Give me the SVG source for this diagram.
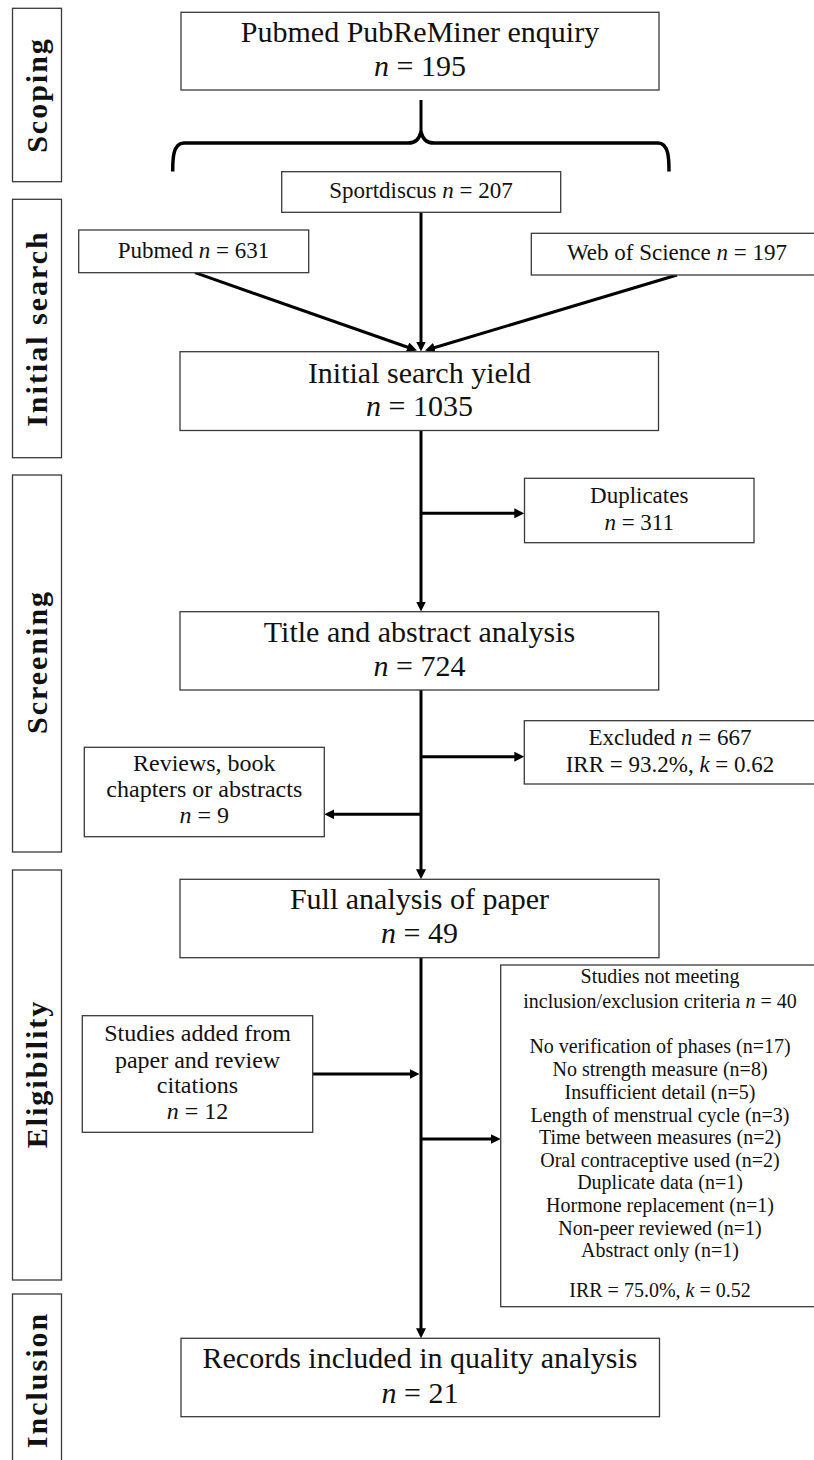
<svg xmlns="http://www.w3.org/2000/svg" width="814" height="1460" viewBox="0 0 814 1460">
<style>
  .box { fill: #ffffff; stroke: #3a3a3a; stroke-width: 1.3; }
  .lbl { font-family: "Liberation Serif", "Times New Roman", serif; font-weight: bold; font-size: 30px; letter-spacing: 2px; fill: #111; text-anchor: middle; }
  .big { font-family: "Liberation Serif", "Times New Roman", serif; font-size: 30px; fill: #111; text-anchor: middle; }
  .mid { font-family: "Liberation Serif", "Times New Roman", serif; font-size: 23px; fill: #111; text-anchor: middle; }
  .md2 { font-family: "Liberation Serif", "Times New Roman", serif; font-size: 24px; fill: #111; text-anchor: middle; }
  .sml { font-family: "Liberation Serif", "Times New Roman", serif; font-size: 20px; fill: #111; text-anchor: middle; }
  .it { font-style: italic; }
  .con { fill: none; stroke: #000; stroke-width: 3; }
  .brace { fill: none; stroke: #000; stroke-width: 3.5; stroke-linejoin: round; }
</style>
<defs>
  <marker id="ah" viewBox="0 0 10 10" refX="4" refY="5" markerWidth="10" markerHeight="10" markerUnits="userSpaceOnUse" orient="auto">
    <path d="M0,0 L10,5 L0,10 z" fill="#000"/>
  </marker>
</defs>

<!-- Stage labels -->
<g id="stage-scoping">
  <rect class="box" x="12.5" y="8.3" width="49" height="173.4"/>
  <text class="lbl" transform="translate(47,95) rotate(-90)">Scoping</text>
</g>
<g id="stage-initial-search">
  <rect class="box" x="12.5" y="199.3" width="49" height="258.4"/>
  <text class="lbl" transform="translate(47,328.5) rotate(-90)">Initial search</text>
</g>
<g id="stage-screening">
  <rect class="box" x="12.5" y="475" width="49" height="377"/>
  <text class="lbl" transform="translate(47,662) rotate(-90)">Screening</text>
</g>
<g id="stage-eligibility">
  <rect class="box" x="12.5" y="870" width="49" height="410"/>
  <text class="lbl" transform="translate(47,1074) rotate(-90)">Eligibility</text>
</g>
<g id="stage-inclusion">
  <rect class="box" x="12.5" y="1294" width="49" height="180"/>
  <text class="lbl" transform="translate(47,1380) rotate(-90)">Inclusion</text>
</g>

<!-- Connectors -->
<g id="connectors">
  <line class="con" x1="421" y1="100" x2="421" y2="134"/>
  <path class="brace" d="M172.7,171.5 C172.7,160 172.7,143 184,143 L408,143 C416,143 419,139 421,132 C423,139 426,143 434,143 L658,143 C669,143 669,160 669,171.5"/>
  <line class="con" x1="195" y1="272.7" x2="411.3" y2="348.5" marker-end="url(#ah)"/>
  <line class="con" x1="421" y1="212.3" x2="421" y2="345.5" marker-end="url(#ah)"/>
  <line class="con" x1="677" y1="275" x2="430.7" y2="348.8" marker-end="url(#ah)"/>
  <line class="con" x1="421" y1="430.5" x2="421" y2="605.5" marker-end="url(#ah)"/>
  <line class="con" x1="421" y1="513.3" x2="518.3" y2="513.3" marker-end="url(#ah)"/>
  <line class="con" x1="421" y1="690" x2="421" y2="873.3" marker-end="url(#ah)"/>
  <line class="con" x1="421" y1="756.7" x2="518.3" y2="756.7" marker-end="url(#ah)"/>
  <line class="con" x1="421" y1="814.3" x2="330.3" y2="814.3" marker-end="url(#ah)"/>
  <line class="con" x1="421" y1="957.7" x2="421" y2="1332.3" marker-end="url(#ah)"/>
  <line class="con" x1="312.7" y1="1074" x2="413.5" y2="1074" marker-end="url(#ah)"/>
  <line class="con" x1="421" y1="1139" x2="494.7" y2="1139" marker-end="url(#ah)"/>
</g>

<!-- Nodes -->
<g id="node-pubreminer">
  <rect class="box" x="181" y="12.3" width="478" height="77.7"/>
  <text class="big" x="420" y="42">Pubmed PubReMiner enquiry</text>
  <text class="big" x="420" y="76"><tspan class="it">n</tspan> = 195</text>
</g>
<g id="node-sportdiscus">
  <rect class="box" x="281.7" y="171.7" width="279" height="40.6"/>
  <text class="mid" x="421" y="197.7">Sportdiscus <tspan class="it">n</tspan> = 207</text>
</g>
<g id="node-pubmed">
  <rect class="box" x="78.7" y="230" width="230" height="42.7"/>
  <text class="mid" x="193.5" y="258.3">Pubmed <tspan class="it">n</tspan> = 631</text>
</g>
<g id="node-wos">
  <rect class="box" x="531.3" y="233.3" width="292" height="41.7"/>
  <text class="mid" x="677" y="260">Web of Science <tspan class="it">n</tspan> = 197</text>
</g>
<g id="node-initial-yield">
  <rect class="box" x="180" y="351.7" width="478.5" height="78.8"/>
  <text class="big" x="419.5" y="382.7">Initial search yield</text>
  <text class="big" x="419.5" y="416"><tspan class="it">n</tspan> = 1035</text>
</g>
<g id="node-duplicates">
  <rect class="box" x="524.5" y="478.3" width="229.5" height="64.4"/>
  <text class="mid" x="639.2" y="503.3">Duplicates</text>
  <text class="mid" x="639.2" y="530"><tspan class="it">n</tspan> = 311</text>
</g>
<g id="node-title-abstract">
  <rect class="box" x="180" y="611.7" width="478.7" height="78.3"/>
  <text class="big" x="419.5" y="641.7">Title and abstract analysis</text>
  <text class="big" x="419.5" y="676"><tspan class="it">n</tspan> = 724</text>
</g>
<g id="node-excluded">
  <rect class="box" x="524.3" y="720.7" width="292" height="63.3"/>
  <text class="mid" x="670" y="745">Excluded <tspan class="it">n</tspan> = 667</text>
  <text class="mid" x="670" y="771.7">IRR = 93.2%, <tspan class="it">k</tspan> = 0.62</text>
</g>
<g id="node-reviews">
  <rect class="box" x="84.3" y="747.3" width="240" height="89.4"/>
  <text class="md2" x="204.3" y="770.7">Reviews, book</text>
  <text class="md2" x="204.3" y="797.3">chapters or abstracts</text>
  <text class="md2" x="204.3" y="822.7"><tspan class="it">n</tspan> = 9</text>
</g>
<g id="node-full-analysis">
  <rect class="box" x="180" y="879.3" width="479" height="78.4"/>
  <text class="big" x="419.5" y="909.3">Full analysis of paper</text>
  <text class="big" x="419.5" y="942.7"><tspan class="it">n</tspan> = 49</text>
</g>
<g id="node-studies-added">
  <rect class="box" x="82.3" y="1015.7" width="230.4" height="116.6"/>
  <text class="md2" x="197.5" y="1040.7">Studies added from</text>
  <text class="md2" x="197.5" y="1067.7">paper and review</text>
  <text class="md2" x="197.5" y="1092.7">citations</text>
  <text class="md2" x="197.5" y="1119.3"><tspan class="it">n</tspan> = 12</text>
</g>
<g id="node-not-meeting">
  <rect class="box" x="500.7" y="965" width="320" height="341.7"/>
  <text class="sml" x="660" y="983.3">Studies not meeting</text>
  <text class="sml" x="660" y="1008.3">inclusion/exclusion criteria <tspan class="it">n</tspan> = 40</text>
  <text class="sml" x="660" y="1053.3">No verification of phases (n=17)</text>
  <text class="sml" x="660" y="1076">No strength measure (n=8)</text>
  <text class="sml" x="660" y="1098.7">Insufficient detail (n=5)</text>
  <text class="sml" x="660" y="1121.7">Length of menstrual cycle (n=3)</text>
  <text class="sml" x="660" y="1144.3">Time between measures (n=2)</text>
  <text class="sml" x="660" y="1166.7">Oral contraceptive used (n=2)</text>
  <text class="sml" x="660" y="1189.3">Duplicate data (n=1)</text>
  <text class="sml" x="660" y="1212.3">Hormone replacement (n=1)</text>
  <text class="sml" x="660" y="1235">Non-peer reviewed (n=1)</text>
  <text class="sml" x="660" y="1257.3">Abstract only (n=1)</text>
  <text class="sml" x="660" y="1297">IRR = 75.0%, <tspan class="it">k</tspan> = 0.52</text>
</g>
<g id="node-records">
  <rect class="box" x="181" y="1338.3" width="478.5" height="78.4"/>
  <text class="big" x="420" y="1368.3">Records included in quality analysis</text>
  <text class="big" x="420" y="1402.7"><tspan class="it">n</tspan> = 21</text>
</g>
</svg>
